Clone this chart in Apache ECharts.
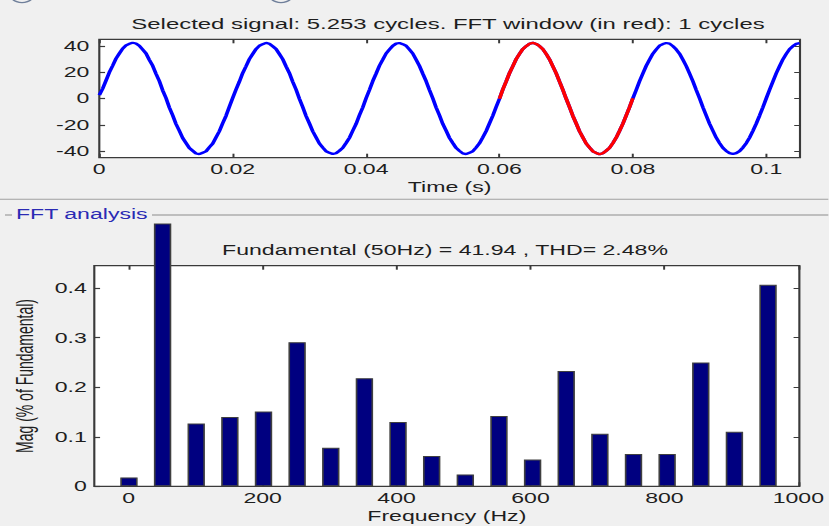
<!DOCTYPE html>
<html><head><meta charset="utf-8">
<script src="https://cdn.jsdelivr.net/npm/echarts@6/dist/echarts.min.js"></script>
<style>
html,body{margin:0;padding:0;background:#f0f0f0;overflow:hidden;}
#wrap{width:829px;height:526px;overflow:hidden;position:relative;}
#chart{position:absolute;left:0;top:0;width:502.42px;height:526px;transform:scaleX(1.65);transform-origin:0 0;}
</style></head><body><div id="wrap"><div id="chart"></div></div>
<script>
// ---- data ----
const sampleStep = 0.0005; // seconds between samples
const signalValues = [
 2.5, 7.4, 13.6, 19.8, 24.9, 30.3, 34.2, 37.9, 40.3, 41.6, 42.4, 41.8, 40.1, 37.2, 34.3, 29.4, 24.9, 18.8, 13.3, 6.2,
 0.4, -6.9, -12.7, -19.4, -24.5, -30.0, -33.8, -37.6, -39.7, -41.8, -42.3, -41.2, -40.2, -37.1, -34.3, -29.5, -24.9, -18.8, -13.2, -6.3,
 0.3, 6.9, 12.8, 19.3, 24.5, 29.9, 33.8, 37.6, 40.1, 41.3, 42.3, 41.6, 39.7, 37.6, 33.8, 29.9, 24.4, 19.3, 12.8, 6.8,
 -0.2, -6.4, -13.3, -18.9, -24.9, -29.5, -34.2, -37.2, -40.1, -41.3, -42.2, -41.6, -39.7, -37.5, -33.8, -29.9, -24.5, -19.3, -12.8, -6.8,
 0.2, 6.4, 13.2, 18.9, 24.9, 29.5, 34.2, 37.2, 40.0, 41.7, 42.2, 41.3, 40.1, 37.2, 34.2, 29.5, 24.8, 18.9, 13.2, 6.4,
 0.2, -6.8, -12.8, -19.3, -24.4, -29.9, -33.8, -37.6, -39.8, -41.7, -42.3, -41.3, -40.1, -37.2, -34.1, -29.6, -24.8, -18.9, -13.1, -6.5,
 -0.2, 6.8, 12.9, 19.3, 24.5, 29.9, 33.9, 37.6, 39.8, 41.6, 42.3, 41.5, 39.9, 37.5, 33.9, 29.8, 24.5, 19.2, 12.9, 6.7,
 -0.1, -6.5, -13.2, -18.9, -24.9, -29.5, -34.2, -37.2, -40.1, -41.4, -42.4, -41.6, -39.7, -37.5, -33.9, -29.8, -24.6, -19.2, -12.9, -6.7,
 0.1, 6.5, 13.1, 19.0, 24.8, 29.6, 34.1, 37.3, 40.1, 41.4, 42.2, 41.7, 39.8, 37.3, 34.1, 29.6, 24.7, 19.0, 13.1, 6.5,
 0.2, -6.7, -12.9, -19.2, -24.5, -29.8, -33.9, -37.5, -39.9, -41.5, -42.2, -41.5, -40.0, -37.3, -34.0, -29.7, -24.6, -19.1, -13.0, -6.6,
 0.1, 6.7, 12.9, 19.2, 24.6, 29.8, 33.9, 37.5, 39.9, 41.5, 42.1
];
const fftWindow = [0.06, 0.08];
const harmonicFreqs = [0, 50, 100, 150, 200, 250, 300, 350, 400, 450, 500, 550, 600, 650, 700, 750, 800, 850, 900, 950];
const harmonicMags  = [0.018, 100, 0.127, 0.140, 0.151, 0.291, 0.078, 0.218, 0.130, 0.061, 0.024, 0.142, 0.054, 0.233, 0.106, 0.065, 0.065, 0.250, 0.110, 0.407];
const timeTicks = [0, 0.02, 0.04, 0.06, 0.08, 0.1];
const signalTicks = [-40, -20, 0, 20, 40];
const freqTicks = [0, 200, 400, 600, 800, 1000];
const magTicks = [0, 0.1, 0.2, 0.3, 0.4];
const topTitle = 'Selected signal: 5.253 cycles. FFT window (in red): 1 cycles';
const fftTitle = 'Fundamental (50Hz) = 41.94 , THD= 2.48%';

// ---- layout ----
const S = 1.65;               // horizontal stretch of the picture
const X = px => px / S;
const W = 829 / S, H = 526;
const FONT = '"Liberation Sans", Arial, sans-serif';
const TXT = '#1e1e1e';
const EDGE = '#3a3a3a';

const signalData = signalValues.map((v, i) => [+(i * sampleStep).toFixed(4), v]);
const windowData = signalData.filter(d => d[0] >= fftWindow[0] - 1e-9 && d[0] <= fftWindow[1] + 1e-9);
const barData = harmonicFreqs.map((f, i) => [f, harmonicMags[i]]);

const chart = echarts.init(document.getElementById('chart'), null, {renderer: 'svg', width: W, height: H});

const plain = v => String(v);
const lbl = (extra) => Object.assign({fontFamily: FONT, fontSize: 14, color: TXT}, extra || {});
const tick = (len) => ({show: true, inside: true, length: len, lineStyle: {color: EDGE, width: 1.2}});
const noLine = {show: false, onZero: false};

const g0 = {left: X(99.3), top: 39.3, width: X(700.7), height: 118.4, show: true, backgroundColor: '#fff', borderColor: EDGE, borderWidth: 1.3};
const g1 = {left: X(94.3), top: 265.7, width: X(708.4), height: 220.6, show: true, backgroundColor: '#fff', borderColor: EDGE, borderWidth: 1.3};
const g2 = {left: X(94.3), top: 224, width: X(708.4), height: 262.3, show: false};
const magMax = 0.4455;
const magMaxB = magMax * 262.3 / 220.6;

const option = {
  animation: false,
  backgroundColor: '#f0f0f0',
  grid: [g0, g1, g2],
  xAxis: [
    {type: 'value', gridIndex: 0, min: 0, max: 0.10506, position: 'bottom',
     axisLine: noLine, splitLine: {show: false},
     axisTick: Object.assign(tick(4), {customValues: timeTicks}),
     axisLabel: lbl({margin: 5, customValues: timeTicks, formatter: plain}),
     name: 'Time (s)', nameLocation: 'middle', nameGap: 23, nameTextStyle: lbl()},
    {type: 'value', gridIndex: 0, min: 0, max: 0.10506, position: 'top',
     axisLine: noLine, splitLine: {show: false},
     axisTick: Object.assign(tick(4), {customValues: timeTicks}), axisLabel: {show: false}},
    {type: 'value', gridIndex: 1, min: -51.5, max: 1001.5, position: 'bottom',
     axisLine: noLine, splitLine: {show: false},
     axisTick: Object.assign(tick(4), {customValues: freqTicks}),
     axisLabel: lbl({margin: 5, customValues: freqTicks, formatter: plain}),
     name: 'Frequency (Hz)', nameLocation: 'middle', nameGap: 22.5, nameTextStyle: lbl()},
    {type: 'value', gridIndex: 1, min: -51.5, max: 1001.5, position: 'top',
     axisLine: noLine, splitLine: {show: false},
     axisTick: Object.assign(tick(4), {customValues: freqTicks}), axisLabel: {show: false}},
    {type: 'value', gridIndex: 2, min: -51.5, max: 1001.5, show: false, axisLine: noLine}
  ],
  yAxis: [
    {type: 'value', gridIndex: 0, min: -45, max: 45, position: 'left',
     axisLine: noLine, splitLine: {show: false},
     axisTick: Object.assign(tick(3.5), {customValues: signalTicks}),
     axisLabel: lbl({margin: 6, customValues: signalTicks, formatter: plain})},
    {type: 'value', gridIndex: 0, min: -45, max: 45, position: 'right',
     axisLine: noLine, splitLine: {show: false},
     axisTick: Object.assign(tick(3.5), {customValues: signalTicks}), axisLabel: {show: false}},
    {type: 'value', gridIndex: 1, min: 0, max: magMax, position: 'left',
     axisLine: noLine, splitLine: {show: false},
     axisTick: Object.assign(tick(3.5), {customValues: magTicks}),
     axisLabel: lbl({margin: 4.5, customValues: magTicks, formatter: plain}),
     name: 'Mag (% of Fundamental)', nameLocation: 'middle', nameRotate: 90, nameGap: 33, nameTextStyle: lbl()},
    {type: 'value', gridIndex: 1, min: 0, max: magMax, position: 'right',
     axisLine: noLine, splitLine: {show: false},
     axisTick: Object.assign(tick(3.5), {customValues: magTicks}), axisLabel: {show: false}},
    {type: 'value', gridIndex: 2, min: 0, max: magMaxB, show: false, axisLine: noLine}
  ],
  series: [
    {type: 'line', xAxisIndex: 0, yAxisIndex: 0, data: signalData, showSymbol: false, silent: true,
     lineStyle: {color: '#0000ff', width: 2.3}, z: 3},
    {type: 'line', xAxisIndex: 0, yAxisIndex: 0, data: windowData, showSymbol: false, silent: true,
     lineStyle: {color: '#ff0000', width: 2.3}, z: 4},
    {type: 'bar', xAxisIndex: 4, yAxisIndex: 4, data: barData, barWidth: X(17.4), clip: true,
     itemStyle: {color: '#000080', borderColor: '#404040', borderWidth: 1}, z: 5}
  ],
  graphic: [
    // cut-off radio buttons at the very top (only their lowest pixels are in view)
    {type: 'circle', shape: {cx: X(22), cy: -4, r: 6.5}, style: {fill: 'none', stroke: '#6f7f9a', lineWidth: 1.2}},
    {type: 'circle', shape: {cx: X(281), cy: -4, r: 6.5}, style: {fill: 'none', stroke: '#6f7f9a', lineWidth: 1.2}},
    {type: 'text', x: X(40), y: -1.5, style: {text: 'Display selected signal', fill: TXT, fontSize: 14, fontFamily: FONT, verticalAlign: 'bottom'}},
    {type: 'text', x: X(300), y: -1.5, style: {text: 'Display FFT window', fill: TXT, fontSize: 14, fontFamily: FONT, verticalAlign: 'bottom'}},
    // titles
    {type: 'text', x: X(448), y: 24, style: {text: topTitle, fill: TXT, fontSize: 14.5, fontFamily: FONT, align: 'center', verticalAlign: 'middle'}},
    {type: 'text', x: X(445), y: 250, style: {text: fftTitle, fill: TXT, fontSize: 14, fontFamily: FONT, align: 'center', verticalAlign: 'middle'}},
    // panel separators
    {type: 'line', shape: {x1: 0, y1: 199.3, x2: W, y2: 199.3}, style: {stroke: '#a0a0a0', lineWidth: 1}},
    {type: 'line', shape: {x1: X(5), y1: 215, x2: X(12), y2: 215}, style: {stroke: '#8c8c8c', lineWidth: 1}},
    {type: 'line', shape: {x1: X(152), y1: 215, x2: W, y2: 215}, style: {stroke: '#8c8c8c', lineWidth: 1}},
    {type: 'text', x: X(16), y: 214, style: {text: 'FFT analysis', fill: '#2a2ab4', fontSize: 14, fontFamily: FONT, verticalAlign: 'middle'}}
  ]
};
chart.setOption(option);
</script>
</body></html>
